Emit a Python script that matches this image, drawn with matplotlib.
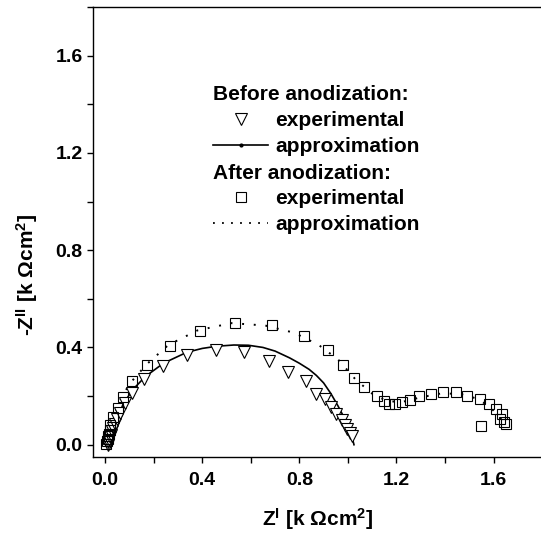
import matplotlib
matplotlib.use("Agg")
import matplotlib.pyplot as plt
from matplotlib.lines import Line2D
from matplotlib.ticker import MultipleLocator

plt.rcParams['font.family'] = ['Liberation Sans', 'DejaVu Sans']
plt.rcParams['font.weight'] = 'bold'
plt.rcParams['axes.labelweight'] = 'bold'
plt.rcParams['mathtext.fontset'] = 'custom'
plt.rcParams['mathtext.rm'] = 'Liberation Sans:bold'
plt.rcParams['mathtext.bf'] = 'Liberation Sans:bold'
plt.rcParams['mathtext.it'] = 'Liberation Sans:bold'

# before anodization, measured (triangles)
before_x = [0.010, 0.012, 0.015, 0.018, 0.022, 0.027, 0.033, 0.040, 0.050, 0.060, 0.080,
            0.110, 0.160, 0.237, 0.336, 0.457, 0.572, 0.675, 0.754, 0.827, 0.868,
            0.905, 0.929, 0.953, 0.974, 0.988, 0.997, 1.008, 1.015]
before_y = [0.000, 0.010, 0.020, 0.030, 0.040, 0.055, 0.070, 0.085, 0.105, 0.130, 0.170,
            0.213, 0.272, 0.325, 0.370, 0.391, 0.380, 0.346, 0.298, 0.261, 0.210,
            0.188, 0.155, 0.128, 0.103, 0.082, 0.064, 0.050, 0.037]

# before anodization, fit (solid line)
fit_before_x = [0.020, 0.030, 0.048, 0.075, 0.117, 0.165, 0.240, 0.336, 0.400, 0.460, 0.530,
                0.590, 0.650, 0.700, 0.760, 0.800, 0.840, 0.870, 0.900, 0.930, 0.960,
                0.980, 1.000, 1.010, 1.020, 1.025]
fit_before_y = [0.000, 0.050, 0.100, 0.170, 0.230, 0.280, 0.335, 0.380, 0.396, 0.405, 0.410,
                0.409, 0.400, 0.385, 0.357, 0.335, 0.310, 0.285, 0.254, 0.210, 0.158,
                0.120, 0.076, 0.050, 0.020, 0.000]

# after anodization, measured (squares)
after_x = [0.005, 0.008, 0.010, 0.012, 0.015, 0.018, 0.020, 0.034, 0.051, 0.073, 0.110,
           0.171, 0.265, 0.389, 0.535, 0.686, 0.820, 0.919, 0.981, 1.025, 1.066,
           1.118, 1.148, 1.170, 1.195, 1.224, 1.255, 1.294, 1.342, 1.393, 1.444,
           1.490, 1.543, 1.581, 1.612, 1.636, 1.626, 1.642, 1.653, 1.550]
after_y = [0.005, 0.015, 0.025, 0.035, 0.045, 0.060, 0.082, 0.113, 0.150, 0.198, 0.260,
           0.328, 0.408, 0.469, 0.501, 0.491, 0.446, 0.388, 0.329, 0.274, 0.237,
           0.199, 0.178, 0.169, 0.169, 0.174, 0.185, 0.199, 0.209, 0.216, 0.216,
           0.199, 0.188, 0.169, 0.147, 0.128, 0.106, 0.092, 0.086, 0.078]

# after anodization, fit (dotted line)
fit_after_x = [0.010, 0.030, 0.060, 0.100, 0.170, 0.260, 0.380, 0.520, 0.660, 0.780, 0.880,
               0.960, 1.030, 1.100, 1.160, 1.220, 1.300, 1.380, 1.460, 1.530, 1.580,
               1.620, 1.650]
fit_after_y = [0.000, 0.100, 0.180, 0.250, 0.330, 0.410, 0.470, 0.500, 0.490, 0.460, 0.410,
               0.350, 0.270, 0.210, 0.180, 0.175, 0.195, 0.210, 0.210, 0.190, 0.160,
               0.120, 0.080]

fig = plt.figure(figsize=(5.41, 5.35), dpi=100)
ax = fig.add_axes([0.172, 0.146, 0.830, 0.841])

ax.plot(fit_before_x, fit_before_y, color='black', lw=1.2)
ax.plot(fit_after_x, fit_after_y, color='black', lw=1.4, linestyle=(0, (1, 5)))
ax.plot(before_x, before_y, linestyle='none', marker='v', markersize=8,
        markerfacecolor='white', markeredgecolor='black', markeredgewidth=0.8)
ax.plot(after_x, after_y, linestyle='none', marker='s', markersize=7,
        markerfacecolor='none', markeredgecolor='black', markeredgewidth=0.8)

ax.set_xlim(-0.05, 1.8)
ax.set_ylim(-0.05, 1.8)
ax.xaxis.set_minor_locator(MultipleLocator(0.2))
ax.yaxis.set_minor_locator(MultipleLocator(0.2))
ax.set_xticks([0.0, 0.4, 0.8, 1.2, 1.6])
ax.set_yticks([0.0, 0.4, 0.8, 1.2, 1.6])
ax.set_xticklabels(['0.0', '0.4', '0.8', '1.2', '1.6'])
ax.set_yticklabels(['0.0', '0.4', '0.8', '1.2', '1.6'])
ax.tick_params(which='both', direction='out', length=4, width=1, labelsize=14)
ax.tick_params(axis='x', pad=7)
ax.spines['right'].set_visible(False)
for s in ['left', 'bottom', 'top']:
    ax.spines[s].set_linewidth(1.0)

ax.set_xlabel(r'Z$^{\mathbf{I}}$ [k Ωcm$^{\mathbf{2}}$]', fontsize=15,
              fontweight='bold', labelpad=12)
ax.set_ylabel(r'-Z$^{\mathbf{II}}$ [k Ωcm$^{\mathbf{2}}$]', fontsize=15,
              fontweight='bold')
ax.yaxis.set_label_coords(-0.118, 0.405)

# legend: two blocks with left-aligned headers
h_exp1 = Line2D([], [], linestyle='none', marker='v', markersize=8,
                markerfacecolor='white', markeredgecolor='black', markeredgewidth=0.8)
h_fit1 = Line2D([], [], color='black', lw=1.2, marker='.', markersize=4)
h_exp2 = Line2D([], [], linestyle='none', marker='s', markersize=7,
                markerfacecolor='none', markeredgecolor='black', markeredgewidth=0.8)
h_fit2 = Line2D([], [], color='black', lw=1.3, linestyle=(0, (1, 4)))

common = dict(frameon=False, loc='upper left', borderpad=0, borderaxespad=0,
              handlelength=2.65, handletextpad=0.35, labelspacing=0.33,
              prop={'size': 15, 'weight': 'bold'}, alignment='left', numpoints=1)
leg1 = ax.legend([h_exp1, h_fit1], ['experimental', 'approximation'],
                 title='Before anodization:', bbox_to_anchor=(0.267, 0.826),
                 title_fontproperties={'size': 15, 'weight': 'bold'}, **common)
ax.add_artist(leg1)
ax.legend([h_exp2, h_fit2], ['experimental', 'approximation'],
          title='After anodization:', bbox_to_anchor=(0.267, 0.652),
          title_fontproperties={'size': 15, 'weight': 'bold'}, **common)

fig.savefig('out.png', dpi=100)
